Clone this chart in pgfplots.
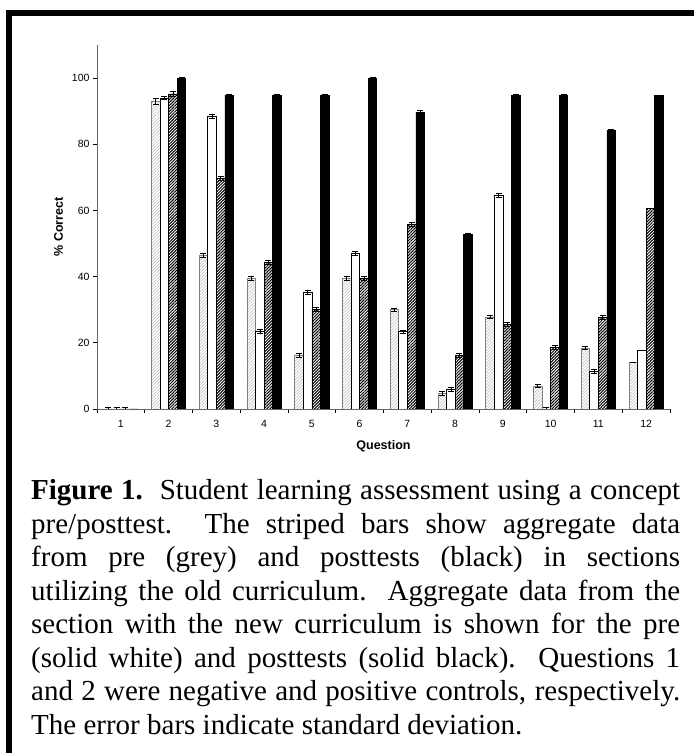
\documentclass[border=0pt]{standalone}
\usepackage{fontspec}
\setmainfont{Liberation Serif}
\newfontfamily\arial{Liberation Sans}
\usepackage{pgfplots}
\pgfplotsset{compat=1.18}
\usepackage{pgfplotstable}
\usetikzlibrary{patterns.meta}

% a = pre, old curriculum (grey stripes); b = pre, new (white)
% c = post, old (black stripes); d = post, new (solid black)
\pgfplotstableread{
q  a    ea   b    eb   c    ec   d     ed
1  0    0.4  0    0.4  0    0.4  0     0
2  93.0 0.8  94.0 0.4  95.2 0.8  100   0.3
3  46.3 0.6  88.3 0.6  69.8 0.6  94.8  0.3
4  39.4 0.6  23.4 0.6  44.2 0.6  94.8  0.3
5  16.2 0.6  35.2 0.6  30.2 0.6  94.8  0.3
6  39.4 0.6  47.0 0.6  39.4 0.6  100   0.3
7  30.0 0.5  23.4 0.5  55.8 0.6  89.7  0.5
8  4.7  0.5  5.8  0.6  16.3 0.6  52.7  0.5
9  27.8 0.5  64.6 0.5  25.6 0.5  94.8  0.3
10 6.9  0.5  0    0.4  18.6 0.6  94.8  0.3
11 18.4 0.5  11.3 0.6  27.8 0.6  84.2  0.3
12 14.0 0    17.6 0    60.6 0    94.8  0
}\scores

\begin{document}
\begin{tikzpicture}[x=1pt,y=1pt]
\useasboundingbox (0,0) rectangle (694,753);
% frame (only top and left edges fall inside the page)
\draw[line width=6pt] (9,740) -- (720,740);
\draw[line width=6pt] (9,743) -- (9,-20);

\begin{axis}[
  at={(97pt,344pt)}, anchor=south west,
  scale only axis, width=573pt, height=364pt,
  xmin=0.5, xmax=12.5, ymin=0, ymax=110,
  axis lines*=left,
  axis line style={gray!80!black, line width=0.8pt},
  xtick={1,...,12},
  minor xtick={0.5,1.5,...,12.5},
  major x tick style={draw=none},
  ytick={0,20,...,100},
  tick align=outside,
  major tick length=4pt, minor tick length=4pt,
  tick style={black, line width=0.7pt},
  /pgf/number format/assume math mode=true,
  tick label style={font=\arial\fontsize{10.5}{12}\selectfont},
  xticklabel style={yshift=-4pt},
  xlabel={Question},
  ylabel={\% Correct},
  label style={font=\arial\bfseries\fontsize{12.5}{14}\selectfont},
  xlabel style={yshift=-6pt},
  ylabel style={yshift=2pt},
  error bars/error bar style={black, line width=0.6pt},
  error bars/error mark options={black, line width=0.7pt, mark size=3pt, rotate=90},
]
\addplot[ybar, bar width=8.6pt, bar shift=0pt, draw=gray, line width=0.7pt,
  pattern={Lines[angle=45, distance=2.2pt, line width=0.5pt]}, pattern color=gray!55,
  error bars/.cd, y dir=both, y explicit]
  table[x expr=\thisrow{q}-0.27, y=a, y error=ea] {\scores};
\addplot[ybar, bar width=8.6pt, bar shift=0pt, draw=black, fill=white, line width=0.7pt,
  error bars/.cd, y dir=both, y explicit]
  table[x expr=\thisrow{q}-0.09, y=b, y error=eb] {\scores};
\addplot[ybar, bar width=8.6pt, bar shift=0pt, draw=black, line width=0.7pt,
  pattern={Lines[angle=45, distance=2.1pt, line width=1.0pt]}, pattern color=black,
  error bars/.cd, y dir=both, y explicit]
  table[x expr=\thisrow{q}+0.09, y=c, y error=ec] {\scores};
\addplot[ybar, bar width=8.6pt, bar shift=0pt, draw=black, fill=black, line width=0.7pt,
  error bars/.cd, y dir=both, y explicit]
  table[x expr=\thisrow{q}+0.27, y=d, y error=ed] {\scores};
\end{axis}

\node[anchor=base west, inner sep=0pt] at (31,253) {\parbox[t]{649pt}{%
\fontsize{29}{33.5}\selectfont
\textbf{Figure 1.}\ \ Student learning assessment using a concept\linebreak
pre/posttest.\ \ The striped bars show aggregate data\linebreak
from pre (grey) and posttests (black) in sections\linebreak
utilizing the old curriculum.\ \ Aggregate data from the\linebreak
section with the new curriculum is shown for the pre\linebreak
(solid white) and posttests (solid black).\ \ Questions 1\linebreak
and 2 were negative and positive controls, respectively.\linebreak
The error bars indicate standard deviation.}};
\end{tikzpicture}
\end{document}
